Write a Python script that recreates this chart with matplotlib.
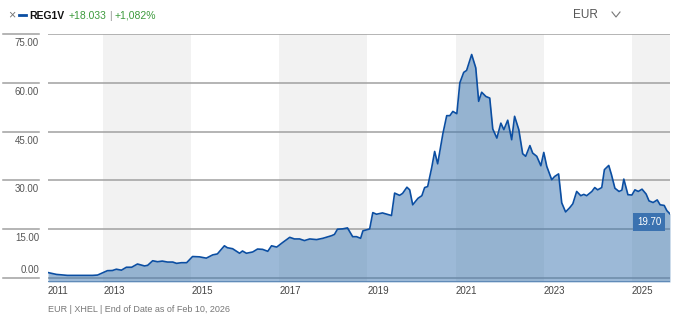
import pandas as pd
import matplotlib
matplotlib.use("Agg")
import matplotlib.pyplot as plt

plt.rcParams['font.family'] = ['Liberation Sans', 'DejaVu Sans']

# REG1V price (EUR)
dates = [
    "2011-10-01", "2011-12-10", "2012-03-10", "2012-10-05", "2012-11-15", "2012-12-28",
    "2013-02-05", "2013-03-18", "2013-04-20", "2013-06-01", "2013-07-12", "2013-08-25",
    "2013-10-12", "2013-12-10", "2014-01-05", "2014-02-15", "2014-03-28", "2014-05-06",
    "2014-06-18", "2014-08-01", "2014-09-01", "2014-10-12", "2014-11-24", "2015-01-12",
    "2015-03-10", "2015-05-06", "2015-06-28", "2015-08-06", "2015-10-03", "2015-10-28",
    "2015-12-10", "2016-02-06", "2016-03-01", "2016-04-03", "2016-05-25", "2016-07-04",
    "2016-08-15", "2016-09-27", "2016-10-28", "2016-12-10", "2017-01-28", "2017-03-28",
    "2017-05-06", "2017-06-18", "2017-07-28", "2017-09-10", "2017-11-06", "2017-12-28",
    "2018-03-10", "2018-04-03", "2018-04-28", "2018-06-10", "2018-07-20", "2018-09-01",
    "2018-10-03", "2018-11-06", "2018-11-25", "2019-01-04", "2019-01-20", "2019-02-15",
    "2019-03-18", "2019-05-06", "2019-07-20", "2019-08-15", "2019-09-25", "2019-10-20",
    "2019-11-25", "2019-12-18", "2020-01-12", "2020-02-25", "2020-03-28", "2020-04-20",
    "2020-05-15", "2020-06-18", "2020-07-12", "2020-08-06", "2020-09-18", "2020-10-20",
    "2020-11-15", "2020-12-10", "2021-01-12", "2021-02-06", "2021-03-10", "2021-04-03",
    "2021-05-15", "2021-06-18", "2021-07-12", "2021-08-06", "2021-09-10", "2021-10-12",
    "2021-11-06", "2021-12-10", "2022-01-12", "2022-02-06", "2022-03-10", "2022-04-12",
    "2022-05-06", "2022-06-10", "2022-07-12", "2022-08-06", "2022-09-10", "2022-10-03",
    "2022-11-06", "2022-12-10", "2023-01-03", "2023-01-28", "2023-03-10", "2023-04-03",
    "2023-05-06", "2023-06-01", "2023-07-03", "2023-08-06", "2023-09-01", "2023-10-03",
    "2023-11-06", "2023-12-01", "2023-12-25", "2024-02-06", "2024-03-01", "2024-03-25",
    "2024-04-28", "2024-05-20", "2024-06-25", "2024-07-18", "2024-08-15", "2024-09-18",
    "2024-10-12", "2024-10-28", "2024-12-01", "2025-01-03", "2025-01-28", "2025-02-25",
    "2025-03-28", "2025-05-01", "2025-05-25", "2025-06-28", "2025-08-01", "2025-08-25",
    "2025-09-28", "2025-10-20", "2025-11-15",
]
prices = [
    1.67, 1.1, 0.8, 0.8, 0.9, 1.6,
    2.25, 2.3, 2.7, 2.4, 3.3, 3.3,
    4.3, 3.7, 3.9, 5.3, 5.0, 5.2,
    4.9, 4.9, 4.5, 4.7, 4.7, 6.6,
    6.5, 6.1, 7.1, 7.4, 9.9, 9.3,
    9.0, 7.6, 8.3, 7.6, 8.0, 8.9,
    8.8, 8.2, 9.9, 9.5, 10.9, 12.5,
    12.0, 12.0, 11.5, 12.0, 11.8, 12.2,
    13.0, 13.4, 15.0, 15.1, 15.4, 12.7,
    12.7, 12.2, 14.5, 14.9, 15.1, 20.1,
    19.6, 20.0, 19.2, 26.1, 25.4, 26.0,
    27.9, 27.1, 22.5, 24.5, 25.3, 27.8,
    28.1, 34.0, 38.9, 35.1, 44.3, 49.9,
    49.9, 51.2, 50.5, 60.0, 63.2, 63.8,
    68.7, 64.6, 54.3, 57.1, 55.8, 55.3,
    45.8, 43.0, 47.6, 45.6, 48.5, 42.5,
    49.7, 45.6, 38.2, 37.4, 40.7, 38.4,
    37.4, 34.5, 38.6, 34.3, 30.2, 31.2,
    32.0, 23.1, 20.3, 21.6, 22.8, 26.6,
    25.3, 25.7, 25.3, 26.6, 27.8, 27.1,
    27.8, 33.3, 34.6, 31.7, 27.6, 26.6,
    27.0, 30.4, 25.6, 25.5, 27.1, 26.6,
    27.3, 25.8, 23.7, 23.2, 24.0, 22.5,
    22.3, 20.7, 19.7,
]
y_ticks = [0, 15, 30, 45, 60, 75]
band_years = [(2013, 2015), (2017, 2019), (2021, 2023), (2025, 2027)]
tick_years = [2013, 2015, 2017, 2019, 2021, 2023, 2025]
header_parts = ["REG1V", "+18.033", "|", "+1,082%"]

x = pd.to_datetime(dates)
line_color = "#0b4ea2"
fill_color = "#3a75b0"
grid_color = "#a0a0a0"
green = "#3c9a3c"

fig = plt.figure(figsize=(6.9, 3.2), dpi=100)
ax = fig.add_axes([48 / 690, 38 / 320, 622 / 690, 248 / 320])
ymin = -4 / 3.247
ax.set_xlim(x[0], x[-1])
ax.set_ylim(ymin, 75)

# alternating year bands
for a, b in band_years:
    ax.axvspan(pd.Timestamp(f"{a}-01-01"), pd.Timestamp(f"{b}-01-01"), color="#f2f2f2", lw=0, zorder=0)

# gridlines, with short stubs on the left under the labels
ytrans = ax.get_yaxis_transform()
for v in y_ticks:
    ax.axhline(v, color=grid_color, lw=1.1, zorder=1)
    ax.plot([-45 / 622, -9 / 622], [v, v], transform=ytrans, color=grid_color, lw=1.1, clip_on=False)
    # bottom label sits above its line, the rest below
    dy, va = (3, "bottom") if v == 0 else (-4, "top")
    ax.annotate(f"{v:.2f}", xy=(-9 / 622, v), xycoords=ytrans, xytext=(0, dy),
                textcoords="offset pixels", ha="right", va=va, fontsize=7, color="#555555")

ax.fill_between(x, prices, ymin, color=fill_color, alpha=0.5, lw=0, zorder=2)
ax.plot(x, prices, color=line_color, lw=1.2, zorder=3, solid_joinstyle="round")
ax.axhline(ymin, color="#5a86b5", lw=2, zorder=4)

# last value tag
ax.annotate(f"{prices[-1]:.2f}", xy=(x[-1], prices[-1]), xytext=(-21, -8),
            textcoords="offset pixels", ha="center", va="center", fontsize=7, color="white",
            bbox=dict(boxstyle="square,pad=0.4", fc="#3b72b0", ec="none"), zorder=5,
            annotation_clip=False)

# x ticks: start label plus every other year
ticks = [x[0]] + [pd.Timestamp(f"{yr}-01-01") for yr in tick_years]
labels = ["2011"] + [str(yr) for yr in tick_years]
ax.set_xticks(ticks)
ax.set_xticklabels(labels, ha="left")
ax.tick_params(axis="x", length=0, pad=3, labelsize=7, labelcolor="#444444")
ax.set_yticks([])
for s in ax.spines.values():
    s.set_visible(False)

# header: lay the pieces out left to right using their measured widths
hy = 1 - 15 / 320
fig.text(12 / 690, hy, "×", fontsize=9, color="#777777", ha="center", va="center")
fig.lines.append(plt.Line2D([19 / 690, 26 / 690], [hy, hy], transform=fig.transFigure,
                            color=line_color, lw=2))
renderer = fig.canvas.get_renderer()
xpos = 29
styles = [("bold", "#111111", 4), ("normal", green, 3), ("normal", "#999999", 3), ("normal", green, 0)]
for txt, (weight, col, gap) in zip(header_parts, styles):
    t = fig.text(xpos / 690, hy, txt, fontsize=7.5, fontweight=weight, color=col, va="center_baseline")
    xpos = t.get_window_extent(renderer).x1 + gap

fig.text(585 / 690, hy, "EUR", fontsize=8.5, color="#555555", ha="center", va="center")
fig.lines.append(plt.Line2D([612 / 690, 616 / 690, 620 / 690], [1 - 12 / 320, 1 - 17 / 320, 1 - 12 / 320],
                            transform=fig.transFigure, color="#777777", lw=0.8))

# footer
fig.text(48 / 690, 1 - 310 / 320, "EUR | XHEL | End of Date as of Feb 10, 2026",
         fontsize=6.5, color="#777777", va="center")

fig.savefig("out.png", dpi=100)
